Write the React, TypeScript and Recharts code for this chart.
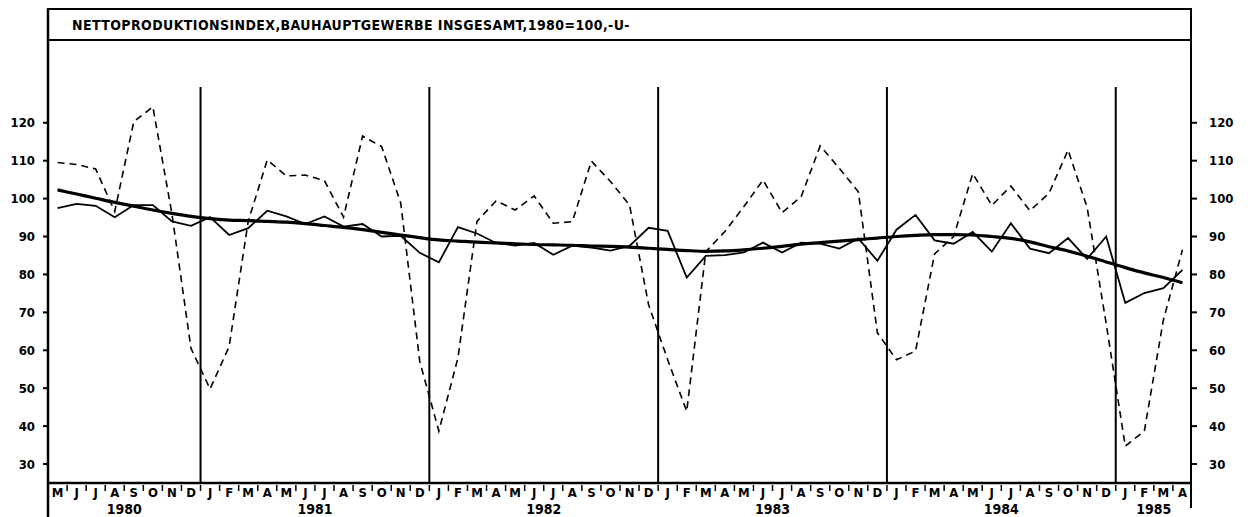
import React from 'react';
import { ComposedChart, Line, XAxis, YAxis } from 'recharts';

// Mai 1980 .. April 1985
const monthLetters = ['J', 'F', 'M', 'A', 'M', 'J', 'J', 'A', 'S', 'O', 'N', 'D'];
const startYear = 1980;
const startMonth = 4; // Mai (0-based)

const years = ['1980', '1981', '1982', '1983', '1984', '1985'];

// Originalwerte (gestrichelt)
const original = [
  109.5, 109, 107.8, 96.6, 120.3, 124.2, 96, 60.5,
  49.8, 61, 94, 110.2, 106, 106.2, 104.7, 95.1, 116.5, 113.7, 98.8, 57,
  38.7, 58, 94, 99.4, 97, 100.7, 93.5, 93.9, 109.9, 104.5, 98.3, 72,
  57.5, 43.9, 86, 91.3, 97.9, 104.9, 96.3, 100.5, 113.9, 108, 101.8, 64.6,
  57.5, 59.8, 85.4, 90, 106.6, 98.2, 103.3, 96.8, 101.4, 112.8, 97.7, 67,
  34.7, 38.7, 68, 86.5,
];

// saisonbereinigt (duenn)
const adjusted = [
  97.5, 98.6, 98.1, 95.1, 98.3, 98.3, 94, 92.8,
  95.1, 90.4, 92.2, 96.8, 95.3, 93.3, 95.3, 92.6, 93.3, 90, 90.2, 85.7,
  83.2, 92.5, 90.8, 88.3, 87.6, 88.3, 85.2, 87.6, 87.1, 86.3, 87.5, 92.3,
  91.5, 79.2, 84.9, 85.1, 85.8, 88.4, 85.8, 88.4, 88.1, 86.8, 89.5, 83.6,
  91.8, 95.7, 89, 88.1, 91.2, 86, 93.5, 86.8, 85.6, 89.6, 84.1, 90,
  72.5, 75.1, 76.4, 81.2,
];

// Trend (dick)
const trend = [
  102.3, 101.2, 100.1, 99.0, 98.0, 97.0, 96.1, 95.3,
  94.7, 94.3, 94.2, 94.0, 93.8, 93.4, 92.9, 92.4, 91.8, 91.1, 90.4, 89.7,
  89.1, 88.8, 88.5, 88.3, 88.1, 87.9, 87.8, 87.7, 87.5, 87.4, 87.2, 86.9,
  86.6, 86.3, 86.1, 86.2, 86.5, 86.9, 87.4, 88.0, 88.4, 88.8, 89.2, 89.6,
  90.0, 90.3, 90.5, 90.5, 90.4, 90.0, 89.5, 88.6, 87.3, 86.2, 84.8, 83.3,
  81.8, 80.4, 79.2, 77.8,
];

const yTicks = [30, 40, 50, 60, 70, 80, 90, 100, 110, 120];

const data = original.map((v, i) => {
  const m = (startMonth + i) % 12;
  const y = startYear + Math.floor((startMonth + i) / 12);
  return { key: `${y}-${m + 1}`, month: m, year: y, original: v, adjusted: adjusted[i], trend: trend[i] };
});

const W = 1257;
const H = 517;
const LEFT = 48;
const RIGHT_W = 65;
const PLOT_W = W - LEFT - RIGHT_W;
const BW = PLOT_W / data.length;
const FONT = '"DejaVu Sans Condensed", "DejaVu Sans", sans-serif';

const MonthTick = (props: any) => {
  const { x, y, index } = props;
  const d = data[index];
  if (!d) return null;
  const left = x - BW / 2;
  const yearIdx = d.year - startYear;
  const yearStart = data.findIndex(p => p.year === d.year);
  const yearCount = data.filter(p => p.year === d.year).length;
  return (
    <g>
      {index > 0 && <line x1={left} x2={left} y1={y + 2} y2={y + 8} stroke="#000" strokeWidth={1.5} />}
      {d.month === 0 && index > 0 && (
        <line x1={left} x2={left} y1={y} y2={87} stroke="#000" strokeWidth={2} />
      )}
      <text x={x} y={y + 14} textAnchor="middle" fontFamily={FONT} fontWeight="bold" fontSize={13} fill="#000">
        {monthLetters[d.month]}
      </text>
      {index === yearStart && (
        <text x={left + (yearCount * BW) / 2} y={y + 31} textAnchor="middle" fontFamily={FONT} fontWeight="bold" fontSize={14} fill="#000">
          {years[yearIdx]}
        </text>
      )}
    </g>
  );
};

export default function App() {
  return (
    <div style={{ position: 'absolute', left: 0, top: 0, width: W, height: H, background: '#fff' }}>
      <ComposedChart width={W} height={H} data={data} margin={{ top: 9, right: 0, bottom: 0, left: 0 }}>
        <XAxis
          dataKey="key"
          interval={0}
          height={34}
          padding={{ left: BW / 2, right: BW / 2 }}
          tickSize={0}
          tickMargin={0}
          tickLine={false}
          axisLine={{ stroke: '#000', strokeWidth: 2.5 }}
          tick={<MonthTick />}
        />
        <YAxis
          yAxisId="l"
          orientation="left"
          width={LEFT}
          domain={[25, 150]}
          ticks={yTicks}
          axisLine={false}
          tickSize={5}
          tickMargin={8}
          tickLine={{ stroke: '#000', strokeWidth: 2 }}
          tick={{ fill: '#000', fontFamily: FONT, fontWeight: 'bold', fontSize: 13 }}
        />
        <YAxis
          yAxisId="r"
          orientation="right"
          width={RIGHT_W}
          domain={[25, 150]}
          ticks={yTicks}
          axisLine={false}
          tickSize={5}
          tickMargin={12}
          tickLine={{ stroke: '#000', strokeWidth: 2 }}
          tick={{ fill: '#000', fontFamily: FONT, fontWeight: 'bold', fontSize: 13, textAnchor: 'start' }}
        />
        <Line yAxisId="l" type="linear" dataKey="original" stroke="#000" strokeWidth={1.6} strokeDasharray="7 5" dot={false} isAnimationActive={false} />
        <Line yAxisId="l" type="linear" dataKey="adjusted" stroke="#000" strokeWidth={1.8} dot={false} isAnimationActive={false} />
        <Line yAxisId="r" type="monotone" dataKey="trend" stroke="#000" strokeWidth={3.2} dot={false} isAnimationActive={false} />
      </ComposedChart>
      <svg width={W} height={H} style={{ position: 'absolute', left: 0, top: 0, pointerEvents: 'none' }}>
        <rect x={LEFT} y={9} width={1191 - LEFT} height={31} fill="none" stroke="#000" strokeWidth={2} />
        <line x1={LEFT} x2={LEFT} y1={9} y2={517} stroke="#000" strokeWidth={2.5} />
        <line x1={1191} x2={1191} y1={9} y2={508} stroke="#000" strokeWidth={2} />
        <text x={72} y={30} fontFamily={FONT} fontWeight="bold" fontSize={14} letterSpacing={0.4} fill="#000">
          NETTOPRODUKTIONSINDEX,BAUHAUPTGEWERBE INSGESAMT,1980=100,-U-
        </text>
      </svg>
    </div>
  );
}
